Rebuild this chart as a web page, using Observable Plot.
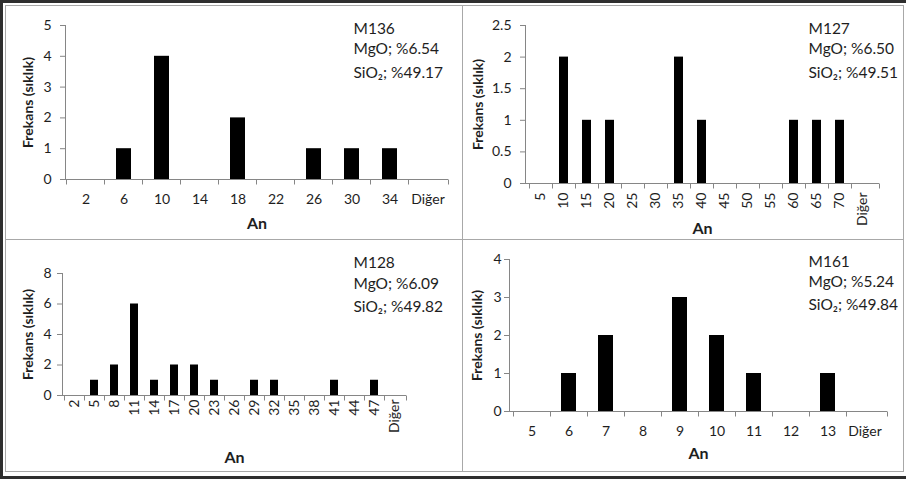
<!DOCTYPE html>
<html><head><meta charset="utf-8">
<script src="https://cdn.jsdelivr.net/npm/d3@7"></script>
<script src="https://cdn.jsdelivr.net/npm/@observablehq/plot@0.6"></script>
<style>
body{margin:0;background:#fff;}
#wrap{position:relative;width:906px;height:479px;overflow:hidden;font-family:Lato,"Open Sans",sans-serif;background:#fff;}
.panel{position:absolute;}
.panel svg{background:transparent;}
.ln{position:absolute;background:#a8a8a8;}
.dk{position:absolute;background:#2e2e2e;}
</style></head><body>
<div id="wrap"></div>
<script>
// ---- data ----
const m136Bins = ["2","6","10","14","18","22","26","30","34","Diğer"];
const m136Counts = [0,1,4,0,2,0,1,1,1,0];
const m127Bins = ["5","10","15","20","25","30","35","40","45","50","55","60","65","70","Diğer"];
const m127Counts = [0,2,1,1,0,0,2,1,0,0,0,1,1,1,0];
const m128Bins = ["2","5","8","11","14","17","20","23","26","29","32","35","38","41","44","47","Diğer"];
const m128Counts = [0,1,2,6,1,2,2,1,0,1,1,0,0,1,0,1,0];
const m161Bins = ["5","6","7","8","9","10","11","12","13","Diğer"];
const m161Counts = [0,1,2,0,3,2,1,0,1,0];
const yTicks136 = [0,1,2,3,4,5];
const yTicks127 = [0,0.5,1,1.5,2,2.5];
const yTicks128 = [0,2,4,6,8];
const yTicks161 = [0,1,2,3,4];
const sampleIds = ["M136","M127","M128","M161"];
const mgoLabels = ["MgO; %6.54","MgO; %6.50","MgO; %6.09","MgO; %5.24"];
const sio2Labels = ["SiO₂; %49.17","SiO₂; %49.51","SiO₂; %49.82","SiO₂; %49.84"];
const xTitle = "An";
const yTitle = "Frekans (sıklık)";

const AXIS = "#868686";
const INK = "#1e1e1e";

function axisLines(index, scales, values, dims) {
  const {x, y} = scales;
  const dom = x.domain();
  const left = dims.marginLeft, right = dims.width - dims.marginRight;
  const step = (right - left) / dom.length;
  const bw = x.bandwidth ? x.bandwidth() : 0;
  const y0 = Math.round(y(0)) + 0.5;
  const yd = y.domain();
  const yTop = y(Math.max(...yd));
  const g = d3.create("svg:g").attr("stroke", AXIS).attr("fill", "none").attr("stroke-width", 1);
  g.append("line").attr("x1", Math.round(left)+0.5).attr("x2", Math.round(left)+0.5).attr("y1", yTop).attr("y2", y0);
  g.append("line").attr("x1", left).attr("x2", right).attr("y1", y0).attr("y2", y0);
  const bounds = dom.map(d => x(d) + bw / 2 - step / 2).concat([right]);
  for (const b of bounds) {
    const bx = Math.round(b) + 0.5;
    g.append("line").attr("x1", bx).attr("x2", bx).attr("y1", y0).attr("y2", y0 + 5);
  }
  return g.node();
}

function panel(cfg) {
  const data = cfg.bins.map((b, i) => ({bin: b, n: cfg.counts[i]}));
  const notes = [cfg.id, cfg.mgo, cfg.sio];
  const p = Plot.plot({
    width: cfg.width, height: cfg.height,
    marginLeft: cfg.ml, marginRight: cfg.mr, marginTop: cfg.mt, marginBottom: cfg.mb,
    style: {fontFamily: "Lato, 'Open Sans', sans-serif", color: INK, background: "transparent", overflow: "visible"},
    x: {type: "band", domain: cfg.bins, paddingInner: 0.6, paddingOuter: 0.3},
    y: {domain: [0, cfg.ymax]},
    marks: [
      Plot.barY(data, {x: "bin", y: "n", fill: "#000"}),
      axisLines,
      Plot.axisY({ticks: cfg.yticks, tickFormat: d => String(d), tickSize: 5, tickPadding: cfg.ypad, stroke: AXIS, fontSize: 14, fill: INK, label: null}),
      Plot.axisX({tickSize: 0, tickPadding: cfg.xpad, tickRotate: cfg.rot, fontSize: 14, fill: INK, label: null}),
      Plot.text([yTitle], {frameAnchor: "left", textAnchor: "middle", rotate: -90, dx: cfg.ytdx, fontWeight: "bold", fontSize: 14, fill: INK}),
      Plot.text([xTitle], {frameAnchor: "bottom", textAnchor: "middle", dy: cfg.xtdy, lineAnchor: "middle", fontWeight: "bold", fontSize: 16, fill: INK}),
      ...notes.map((t, i) => Plot.text([t], {frameAnchor: "top-right", textAnchor: "start", lineAnchor: "middle", dx: cfg.ndx, dy: cfg.ndy[i], fontSize: 15.5, fill: INK}))
    ]
  });
  const div = document.createElement("div");
  div.className = "panel";
  div.style.left = cfg.left + "px";
  div.style.top = cfg.top + "px";
  div.appendChild(p);
  return div;
}

const wrap = document.getElementById("wrap");
const panels = [
  {left: 0, top: 0, width: 462, height: 238, ml: 65, mr: 14, mt: 25, mb: 59, bins: m136Bins, counts: m136Counts, ymax: 5, yticks: yTicks136, ypad: 9, xpad: 15, rot: 0, ytdx: -37, xtdy: 44, ndx: -95, ndy: [4, 24, 48], id: sampleIds[0], mgo: mgoLabels[0], sio: sio2Labels[0]},
  {left: 463, top: 0, width: 443, height: 238, ml: 62, mr: 27, mt: 25, mb: 55, bins: m127Bins, counts: m127Counts, ymax: 2.5, yticks: yTicks127, ypad: 9, xpad: 9, rot: -90, ytdx: -47, xtdy: 45, ndx: -71, ndy: [4, 24, 48], id: sampleIds[1], mgo: mgoLabels[1], sio: sio2Labels[1]},
  {left: 0, top: 240, width: 462, height: 238, ml: 62, mr: 56, mt: 33, mb: 83, bins: m128Bins, counts: m128Counts, ymax: 8, yticks: yTicks128, ypad: 6, xpad: 4, rot: -90, ytdx: -34, xtdy: 62, ndx: -53, ndy: [-10, 10.5, 34], id: sampleIds[2], mgo: mgoLabels[2], sio: sio2Labels[2]},
  {left: 463, top: 240, width: 443, height: 238, ml: 46, mr: 19, mt: 19, mb: 67, bins: m161Bins, counts: m161Counts, ymax: 4, yticks: yTicks161, ypad: 3, xpad: 15, rot: 0, ytdx: -32, xtdy: 42, ndx: -79, ndy: [2.5, 22.7, 46], id: sampleIds[3], mgo: mgoLabels[3], sio: sio2Labels[3]}
];
for (const c of panels) wrap.appendChild(panel(c));

function box(cls, l, t, w, h) {
  const d = document.createElement("div");
  d.className = cls;
  Object.assign(d.style, {left: l + "px", top: t + "px", width: w + "px", height: h + "px"});
  wrap.appendChild(d);
}
// frames
box("ln", 5, 5, 899, 1);
box("ln", 5, 471, 899, 1);
box("ln", 5, 5, 1, 467);
box("ln", 903, 5, 1, 467);
box("ln", 462, 5, 1, 467);
box("ln", 5, 239, 899, 1);
box("dk", 0, 0, 906, 3);
box("dk", 0, 476, 906, 3);
box("dk", 0, 0, 3, 479);
</script>
</body></html>
